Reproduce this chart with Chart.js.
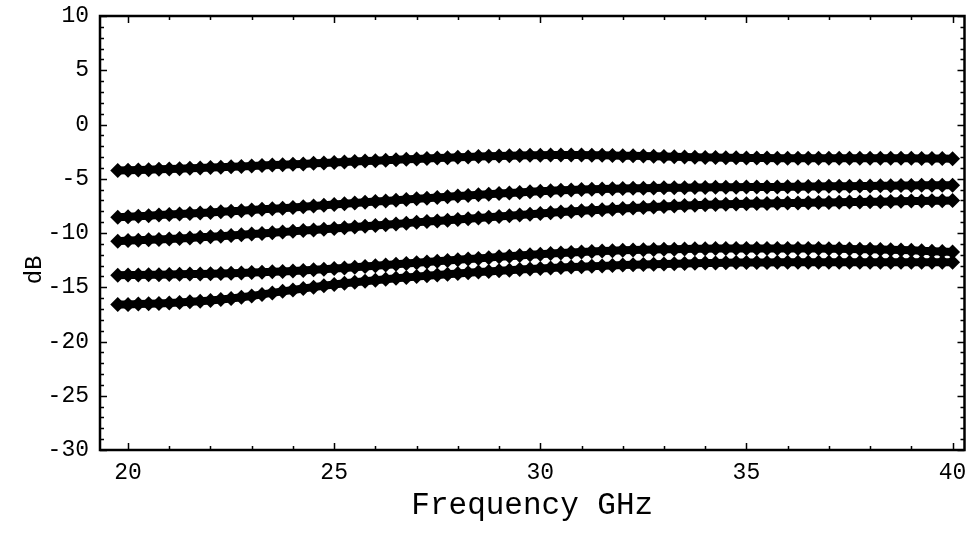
<!DOCTYPE html>
<html>
<head>
<meta charset="utf-8">
<script src="https://cdn.jsdelivr.net/npm/chart.js@4/dist/chart.umd.min.js"></script>
<style>
  html, body { margin: 0; padding: 0; background: #fff; }
  #wrap { width: 972px; height: 534px; }
</style>
</head>
<body>
<div id="wrap"><canvas id="chart" width="972" height="534"></canvas></div>
<script>
// frequency points (GHz), one every marker
const freqs = [19.75,
  20, 20.25, 20.5, 20.75, 21, 21.25, 21.5, 21.75, 22, 22.25, 22.5, 22.75,
  23, 23.25, 23.5, 23.75, 24, 24.25, 24.5, 24.75, 25, 25.25, 25.5, 25.75,
  26, 26.25, 26.5, 26.75, 27, 27.25, 27.5, 27.75, 28, 28.25, 28.5, 28.75,
  29, 29.25, 29.5, 29.75, 30, 30.25, 30.5, 30.75, 31, 31.25, 31.5, 31.75,
  32, 32.25, 32.5, 32.75, 33, 33.25, 33.5, 33.75, 34, 34.25, 34.5, 34.75,
  35, 35.25, 35.5, 35.75, 36, 36.25, 36.5, 36.75, 37, 37.25, 37.5, 37.75,
  38, 38.25, 38.5, 38.75, 39, 39.25, 39.5, 39.75, 40];

const curveA = [-4.25,
  -4.22, -4.19, -4.16, -4.13, -4.10, -4.07, -4.04, -4.00, -3.97, -3.93, -3.90, -3.86,
  -3.82, -3.78, -3.74, -3.71, -3.67, -3.63, -3.58, -3.54, -3.50, -3.46, -3.42, -3.37,
  -3.33, -3.29, -3.25, -3.21, -3.17, -3.13, -3.09, -3.06, -3.02, -2.99, -2.96, -2.93,
  -2.90, -2.88, -2.86, -2.84, -2.83, -2.82, -2.82, -2.82, -2.82, -2.83, -2.84, -2.85,
  -2.87, -2.89, -2.91, -2.93, -2.95, -2.97, -2.99, -3.01, -3.03, -3.04, -3.06, -3.07,
  -3.08, -3.09, -3.09, -3.10, -3.10, -3.10, -3.10, -3.10, -3.10, -3.10, -3.10, -3.10,
  -3.10, -3.11, -3.11, -3.12, -3.12, -3.13, -3.14, -3.14, -3.15];

const curveB = [-8.55,
  -8.50, -8.45, -8.40, -8.35, -8.30, -8.25, -8.20, -8.15, -8.10, -8.05, -7.99, -7.94,
  -7.88, -7.82, -7.77, -7.71, -7.65, -7.58, -7.51, -7.45, -7.38, -7.31, -7.24, -7.17,
  -7.10, -7.04, -6.98, -6.91, -6.85, -6.79, -6.72, -6.66, -6.60, -6.54, -6.48, -6.43,
  -6.37, -6.31, -6.26, -6.20, -6.15, -6.11, -6.07, -6.03, -6.00, -5.97, -5.95, -5.92,
  -5.90, -5.88, -5.87, -5.85, -5.84, -5.83, -5.82, -5.81, -5.80, -5.79, -5.78, -5.78,
  -5.77, -5.76, -5.75, -5.75, -5.74, -5.73, -5.72, -5.71, -5.70, -5.69, -5.68, -5.67,
  -5.66, -5.65, -5.64, -5.63, -5.62, -5.61, -5.61, -5.60, -5.60];

const curveC = [-10.75,
  -10.70, -10.66, -10.63, -10.59, -10.55, -10.50, -10.45, -10.40, -10.35, -10.29, -10.23, -10.16,
  -10.10, -10.04, -9.98, -9.91, -9.85, -9.78, -9.72, -9.65, -9.58, -9.51, -9.44, -9.37,
  -9.30, -9.23, -9.16, -9.09, -9.02, -8.95, -8.89, -8.82, -8.75, -8.68, -8.61, -8.54,
  -8.47, -8.40, -8.34, -8.27, -8.20, -8.14, -8.07, -8.01, -7.95, -7.90, -7.85, -7.80,
  -7.75, -7.70, -7.65, -7.60, -7.55, -7.51, -7.47, -7.44, -7.40, -7.38, -7.35, -7.33,
  -7.30, -7.29, -7.27, -7.26, -7.24, -7.23, -7.21, -7.20, -7.18, -7.17, -7.15, -7.14,
  -7.12, -7.11, -7.09, -7.08, -7.06, -7.05, -7.03, -7.02, -7.00];

const curveD = [-13.90,
  -13.88, -13.87, -13.85, -13.84, -13.82, -13.80, -13.79, -13.77, -13.75, -13.73, -13.70, -13.68,
  -13.65, -13.62, -13.58, -13.54, -13.50, -13.45, -13.39, -13.34, -13.28, -13.22, -13.15, -13.09,
  -13.02, -12.95, -12.89, -12.82, -12.75, -12.68, -12.61, -12.54, -12.47, -12.40, -12.34, -12.27,
  -12.20, -12.14, -12.07, -12.01, -11.95, -11.90, -11.85, -11.80, -11.75, -11.71, -11.67, -11.64,
  -11.60, -11.57, -11.55, -11.52, -11.50, -11.49, -11.47, -11.46, -11.45, -11.44, -11.43, -11.43,
  -11.42, -11.42, -11.42, -11.42, -11.42, -11.43, -11.44, -11.44, -11.45, -11.46, -11.47, -11.49,
  -11.50, -11.52, -11.55, -11.57, -11.60, -11.64, -11.68, -11.71, -11.75];

const curveE = [-16.60,
  -16.58, -16.55, -16.52, -16.49, -16.45, -16.40, -16.34, -16.28, -16.22, -16.13, -16.03, -15.92,
  -15.80, -15.66, -15.52, -15.38, -15.25, -15.12, -14.99, -14.87, -14.75, -14.64, -14.54, -14.44,
  -14.35, -14.26, -14.18, -14.10, -14.02, -13.95, -13.87, -13.80, -13.73, -13.67, -13.60, -13.54,
  -13.48, -13.43, -13.37, -13.32, -13.27, -13.23, -13.18, -13.14, -13.10, -13.06, -13.03, -12.99,
  -12.96, -12.93, -12.90, -12.88, -12.85, -12.83, -12.81, -12.79, -12.77, -12.76, -12.74, -12.73,
  -12.72, -12.71, -12.71, -12.70, -12.70, -12.70, -12.70, -12.70, -12.70, -12.70, -12.70, -12.70,
  -12.70, -12.70, -12.70, -12.70, -12.70, -12.70, -12.70, -12.70, -12.70];

const xTickValues = [20, 25, 30, 35, 40];
const yTickValues = [-30, -25, -20, -15, -10, -5, 0, 5, 10];
const xTitle = 'Frequency GHz';
const yTitle = 'dB';

const FONT = "'Liberation Mono', 'DejaVu Sans Mono', monospace";

function makeSet(values) {
    return {
        data: freqs.map((f, i) => ({ x: f, y: values[i] })),
        borderColor: '#000',
        backgroundColor: '#000',
        borderWidth: 8,
        pointStyle: 'rectRot',
        pointRadius: 7.5,
        pointBorderWidth: 0,
        pointBackgroundColor: '#000',
        tension: 0,
        fill: false
    };
}

// boxed frame with inward ticks on all four sides, plus the y title
const frameTicks = {
    id: 'frameTicks',
    afterDraw(chart) {
        const { ctx, chartArea: a, scales: { x, y } } = chart;
        ctx.save();
        ctx.strokeStyle = '#000';
        ctx.lineWidth = 1.5;
        ctx.beginPath();
        for (let v = 20; v <= 40; v++) {
            const px = Math.round(x.getPixelForValue(v)) + 0.5;
            const len = v % 5 === 0 ? 7 : 4;
            ctx.moveTo(px, a.bottom); ctx.lineTo(px, a.bottom - len);
            ctx.moveTo(px, a.top); ctx.lineTo(px, a.top + len);
        }
        for (let v = -30; v <= 10; v++) {
            const py = Math.round(y.getPixelForValue(v)) + 0.5;
            const len = v % 5 === 0 ? 7 : 4;
            ctx.moveTo(a.left, py); ctx.lineTo(a.left + len, py);
            ctx.moveTo(a.right, py); ctx.lineTo(a.right - len, py);
        }
        ctx.stroke();
        ctx.lineWidth = 2.5;
        ctx.strokeRect(a.left, a.top, a.right - a.left, a.bottom - a.top);

        // "dB" sits a bit below the middle of the axis in the original
        ctx.translate(35, y.getPixelForValue(-13.4));
        ctx.rotate(-Math.PI / 2);
        ctx.fillStyle = '#000';
        ctx.font = "24px " + FONT;
        ctx.textAlign = 'center';
        ctx.textBaseline = 'middle';
        ctx.fillText(yTitle, 0, 0);
        ctx.restore();
    }
};

new Chart(document.getElementById('chart'), {
    type: 'line',
    data: { datasets: [makeSet(curveA), makeSet(curveB), makeSet(curveC), makeSet(curveD), makeSet(curveE)] },
    plugins: [frameTicks],
    options: {
        responsive: false,
        animation: false,
        layout: { padding: { top: 16, right: 6, left: 0, bottom: 0 } },
        plugins: { legend: { display: false }, tooltip: { enabled: false } },
        scales: {
            x: {
                type: 'linear',
                min: 19.32, max: 40.29,
                grid: { display: false, drawTicks: false },
                border: { display: false },
                afterBuildTicks: s => { s.ticks = xTickValues.map(v => ({ value: v })); },
                afterFit: s => { s.height = 84; s.paddingLeft = 0; s.paddingRight = 0; },
                ticks: { color: '#000', padding: 9, maxRotation: 0, font: { family: FONT, size: 23 } },
                title: { display: true, text: xTitle, color: '#000', padding: { top: 8, bottom: 10 }, font: { family: FONT, size: 31 } }
            },
            y: {
                type: 'linear',
                min: -30, max: 10,
                grid: { display: false, drawTicks: false },
                border: { display: false },
                afterBuildTicks: s => { s.ticks = yTickValues.map(v => ({ value: v })); },
                afterFit: s => { s.width = 100; s.paddingTop = 0; s.paddingBottom = 0; },
                ticks: { color: '#000', padding: 11, font: { family: FONT, size: 23 } }
            }
        }
    }
});
</script>
</body>
</html>
